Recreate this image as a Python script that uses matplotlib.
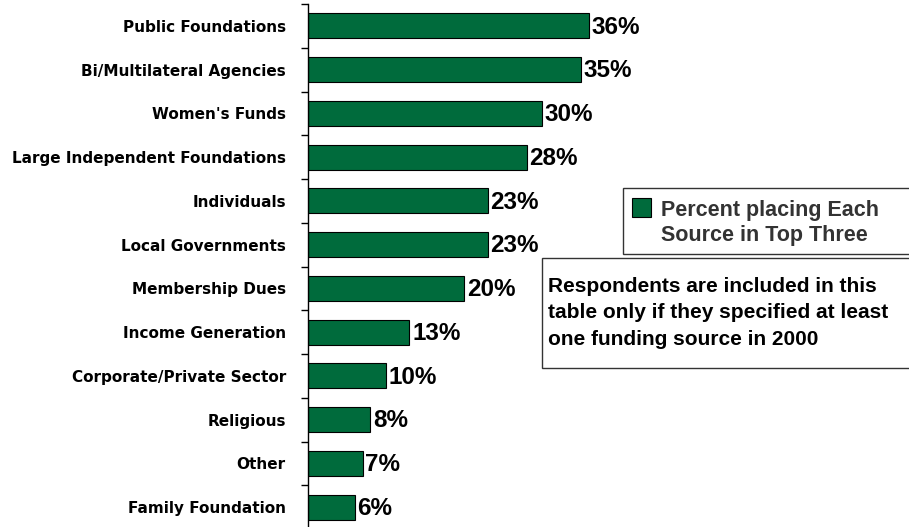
import matplotlib.pyplot as plt
from matplotlib.patches import Rectangle

categories = ['Public Foundations', 'Bi/Multilateral Agencies', "Women's Funds",
              'Large Independent Foundations', 'Individuals', 'Local Governments',
              'Membership Dues', 'Income Generation', 'Corporate/Private Sector',
              'Religious', 'Other', 'Family Foundation']
values = [36, 35, 30, 28, 23, 23, 20, 13, 10, 8, 7, 6]
legend_label = 'Percent placing Each\nSource in Top Three'
note = ('Respondents are included in this\n'
        'table only if they specified at least\n'
        'one funding source in 2000')

green = '#006B3C'
W, H = 909, 527
fig = plt.figure(figsize=(W / 100, H / 100), dpi=100)
ax = fig.add_axes([308 / W, -2 / H, 601 / W, 525 / H])

pos = list(range(len(categories)))
ax.barh(pos, values, height=0.57, color=green, edgecolor='black', linewidth=0.8)
ax.set_xlim(0, 77)
ax.set_ylim(len(categories) - 0.5, -0.5)

for s in ['top', 'right', 'bottom']:
    ax.spines[s].set_visible(False)
ax.spines['left'].set_linewidth(1)
ax.set_xticks([])
ax.set_yticks([p - 0.5 for p in pos] + [len(pos) - 0.5])
ax.set_yticklabels([])
ax.tick_params(axis='y', which='major', length=5, width=1, direction='out')
ax.set_yticks(pos, minor=True)
ax.set_yticklabels(categories, minor=True, fontfamily='DejaVu Sans',
                   fontweight='bold', fontsize=11)
ax.tick_params(axis='y', which='minor', length=0, pad=16)

for p, v in zip(pos, values):
    ax.text(v + 0.35, p + 0.03, f'{v}%', va='center', ha='left', fontsize=17.5,
            fontweight='bold', fontfamily='Liberation Sans')

# legend box
fig.patches.append(Rectangle((623 / W, 1 - 254 / H), 290 / W, 66 / H,
                             transform=fig.transFigure, facecolor='white',
                             edgecolor='#333333', linewidth=1))
fig.patches.append(Rectangle((632 / W, 1 - 217 / H), 19 / W, 19 / H,
                             transform=fig.transFigure, facecolor=green,
                             edgecolor='black', linewidth=0.8))
fig.text(661 / W, 1 - 223 / H, legend_label, fontsize=15.5, fontweight='bold',
         color='#333333', va='center', ha='left', fontfamily='Liberation Sans',
         linespacing=1.25)

# note box
fig.patches.append(Rectangle((542 / W, 1 - 368 / H), 372 / W, 110 / H,
                             transform=fig.transFigure, facecolor='white',
                             edgecolor='#333333', linewidth=1))
fig.text(548 / W, 1 - 313 / H, note, fontsize=15, fontweight='bold',
         color='black', va='center', ha='left', fontfamily='Liberation Sans',
         linespacing=1.5)

fig.savefig('out.png', dpi=100)
